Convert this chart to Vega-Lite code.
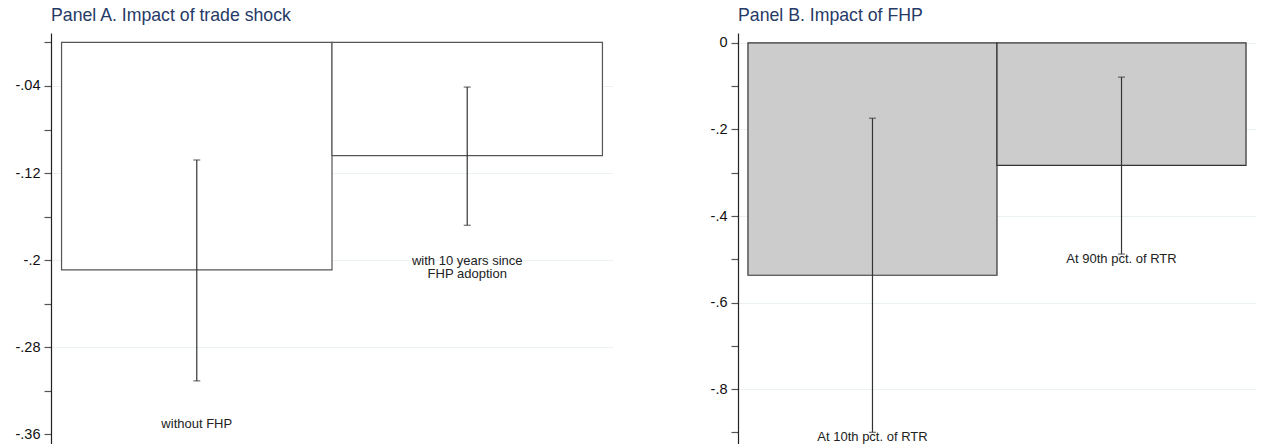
{
  "$schema": "https://vega.github.io/schema/vega-lite/v6.json",
  "padding": {"left": 11, "top": 7, "right": 0, "bottom": 0},
  "background": "white",
  "spacing": 85,
  "hconcat": [
    {
      "title": "Panel A. Impact of trade shock",
      "width": 562,
      "height": 411,
      "data": {"values": [
        {"group": "without FHP", "coef": -0.209, "lo": -0.311, "hi": -0.108, "label": "without FHP", "label_y": -0.351},
        {"group": "with 10 years since FHP adoption", "coef": -0.104, "lo": -0.168, "hi": -0.041, "label": "with 10 years since\nFHP adoption", "label_y": -0.201}
      ]},
      "encoding": {
        "x": {"field": "group", "type": "nominal", "sort": null, "axis": null,
              "scale": {"type": "band", "paddingInner": 0, "paddingOuter": 0.039}}
      },
      "layer": [
        {
          "mark": {"type": "bar", "fill": "white", "stroke": "#555555", "strokeWidth": 1.2},
          "encoding": {
            "y": {"field": "coef", "type": "quantitative",
                  "scale": {"domain": [-0.369, 0.0087], "zero": false, "nice": false},
                  "axis": {
                    "title": null,
                    "values": [0, -0.04, -0.08, -0.12, -0.16, -0.2, -0.24, -0.28, -0.32, -0.36],
                    "labelExpr": "datum.value == -0.04 ? '-.04' : datum.value == -0.12 ? '-.12' : datum.value == -0.2 ? '-.2' : datum.value == -0.28 ? '-.28' : datum.value == -0.36 ? '-.36' : ''",
                    "gridOpacity": {"condition": {"test": "datum.value == -0.04 || datum.value == -0.12 || datum.value == -0.2 || datum.value == -0.28", "value": 1}, "value": 0}
                  }}
          }
        },
        {
          "mark": {"type": "rule", "color": "#333333", "strokeWidth": 1.2},
          "encoding": {
            "y": {"field": "lo", "type": "quantitative"},
            "y2": {"field": "hi"}
          }
        },
        {
          "mark": {"type": "tick", "color": "#333333", "thickness": 1.2, "size": 7},
          "encoding": {"y": {"field": "lo", "type": "quantitative"}}
        },
        {
          "mark": {"type": "tick", "color": "#333333", "thickness": 1.2, "size": 7},
          "encoding": {"y": {"field": "hi", "type": "quantitative"}}
        },
        {
          "mark": {"type": "text", "fontSize": 13, "color": "#222222", "baseline": "middle", "align": "center", "lineBreak": "\n", "lineHeight": 12.5},
          "encoding": {
            "y": {"field": "label_y", "type": "quantitative"},
            "text": {"field": "label"}
          }
        }
      ]
    },
    {
      "title": "Panel B. Impact of FHP",
      "width": 518,
      "height": 411,
      "data": {"values": [
        {"group": "At 10th pct. of RTR", "coef": -0.537, "lo": -0.900, "hi": -0.174, "label": "At 10th pct. of RTR", "label_y": -0.910},
        {"group": "At 90th pct. of RTR", "coef": -0.283, "lo": -0.488, "hi": -0.079, "label": "At 90th pct. of RTR", "label_y": -0.500}
      ]},
      "encoding": {
        "x": {"field": "group", "type": "nominal", "sort": null, "axis": null,
              "scale": {"type": "band", "paddingInner": 0, "paddingOuter": 0.04}}
      },
      "layer": [
        {
          "mark": {"type": "bar", "fill": "#cccccc", "stroke": "#333333", "strokeWidth": 1.2},
          "encoding": {
            "y": {"field": "coef", "type": "quantitative",
                  "scale": {"domain": [-0.927, 0.023], "zero": false, "nice": false},
                  "axis": {
                    "title": null,
                    "values": [0, -0.1, -0.2, -0.3, -0.4, -0.5, -0.6, -0.7, -0.8, -0.9],
                    "labelExpr": "datum.value == 0 ? '0' : datum.value == -0.2 ? '-.2' : datum.value == -0.4 ? '-.4' : datum.value == -0.6 ? '-.6' : datum.value == -0.8 ? '-.8' : ''",
                    "gridOpacity": {"condition": {"test": "datum.value == 0 || datum.value == -0.2 || datum.value == -0.4 || datum.value == -0.6 || datum.value == -0.8", "value": 1}, "value": 0}
                  }}
          }
        },
        {
          "mark": {"type": "rule", "color": "#333333", "strokeWidth": 1.2},
          "encoding": {
            "y": {"field": "lo", "type": "quantitative"},
            "y2": {"field": "hi"}
          }
        },
        {
          "mark": {"type": "tick", "color": "#333333", "thickness": 1.2, "size": 7},
          "encoding": {"y": {"field": "lo", "type": "quantitative"}}
        },
        {
          "mark": {"type": "tick", "color": "#333333", "thickness": 1.2, "size": 7},
          "encoding": {"y": {"field": "hi", "type": "quantitative"}}
        },
        {
          "mark": {"type": "text", "fontSize": 13, "color": "#222222", "baseline": "middle", "align": "center"},
          "encoding": {
            "y": {"field": "label_y", "type": "quantitative"},
            "text": {"field": "label"}
          }
        }
      ]
    }
  ],
  "config": {
    "font": "Liberation Sans",
    "view": {"stroke": null},
    "axis": {
      "domainColor": "#222222",
      "domainWidth": 1.2,
      "tickColor": "#555555",
      "tickSize": 7,
      "tickWidth": 1.2,
      "labelFont": "Liberation Sans",
      "labelFontSize": 14.5,
      "labelColor": "#111111",
      "labelPadding": 4,
      "gridColor": "#eaf2f3",
      "gridWidth": 1.2,
      "minExtent": 40,
      "maxExtent": 40
    },
    "title": {
      "anchor": "start",
      "frame": "group",
      "fontSize": 17.7,
      "fontWeight": "normal",
      "font": "Liberation Sans",
      "color": "#263a66",
      "baseline": "alphabetic",
      "offset": 8
    }
  }
}
